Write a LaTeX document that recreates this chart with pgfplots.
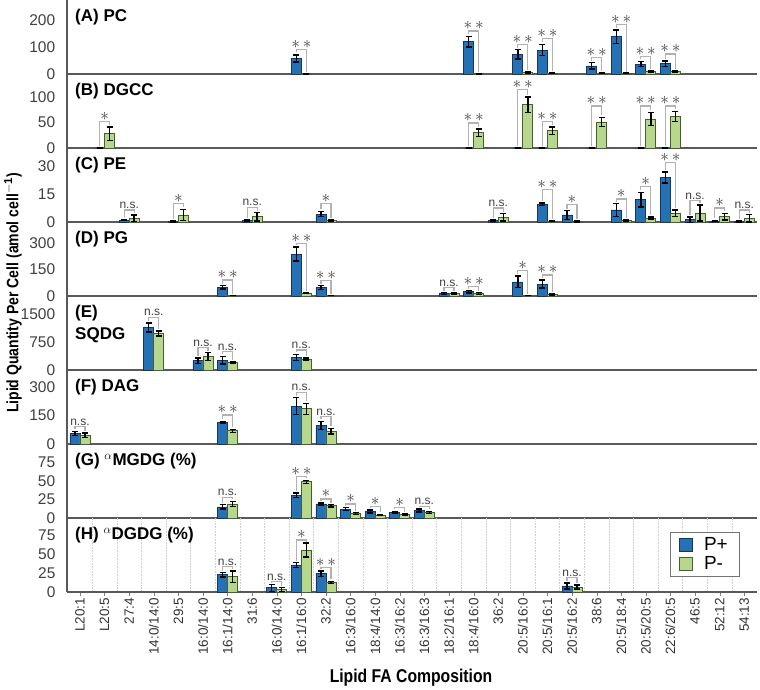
\documentclass[border=0pt]{standalone}
\usepackage{pgfplots}
\pgfplotsset{compat=1.18}
\usepackage{fontspec}
\setmainfont{Liberation Sans}
\newfontfamily\condb{Liberation Sans}[FakeStretch=0.85]

\definecolor{pblue}{RGB}{36,113,181}
\definecolor{pblueE}{RGB}{25,55,85}
\definecolor{pgreen}{RGB}{183,216,140}
\definecolor{pgreenE}{RGB}{70,95,50}

\pgfplotsset{
  panel/.style={
    width=690pt, height=74pt, scale only axis,
    xmin=-0.528, xmax=27.52, ymin=0,
    axis x line*=bottom, axis y line*=left,
    axis line style={draw=black!65, line width=1.1pt},
    xtick=\empty,
    minor xtick={0.5,1.5,...,26.5},
    xminorgrids=true,
    minor grid style={densely dotted, black!30, line width=0.6pt},
    minor tick length=0pt,
    tick align=outside,
    ytick style={draw=none},
    /pgf/number format/assume math mode=true,
    /pgf/number format/1000 sep={},
    yticklabel style={font=\fontsize{15.5}{15.5}\selectfont, text=black!75, xshift=-4pt},
    clip=false,
  },
  bp/.style={ybar, bar width=10pt, bar shift=0pt, x filter/.expression={x-0.2032},
    fill=pblue, draw=pblueE, line width=0.8pt,
    legend image code/.code={\draw[##1] (0pt,-6.5pt) rectangle (13pt,6.5pt); \path (22pt,0pt);},
    error bars/.cd, y dir=both, y explicit,
    error bar style={black, line width=1.4pt},
    error mark options={rotate=90, black, line width=1.4pt, mark size=3pt}},
  gp/.style={ybar, bar width=10pt, bar shift=0pt, x filter/.expression={x+0.2032},
    fill=pgreen, draw=pgreenE, line width=0.8pt,
    legend image code/.code={\draw[##1] (0pt,-6.5pt) rectangle (13pt,6.5pt); \path (22pt,0pt);},
    error bars/.cd, y dir=both, y explicit,
    error bar style={black, line width=1.4pt},
    error mark options={rotate=90, black, line width=1.4pt, mark size=3pt}},
  brk/.style={black!30, line width=1.3pt, no marks, forget plot},
}
\tikzset{
  siglab/.style={anchor=south, inner sep=1pt, text=black!75},
  ptitle/.style={anchor=west, inner sep=0pt, font=\bfseries\fontsize{17}{17}\selectfont},
}
\newcommand{\two}{\fontsize{18}{18}\selectfont$\ast\mkern3mu\ast$}
\newcommand{\one}{\fontsize{18}{18}\selectfont$\ast$}
\newcommand{\ns}{\fontsize{12}{12}\selectfont n.s.}
\newcommand{\sig}[5]{%
  \pgfmathsetmacro\xl{#1-0.2032}\pgfmathsetmacro\xr{#1+0.2032}%
  \edef\tmpbr{\noexpand\addplot[brk] coordinates {(\xl,#2) (\xl,#4) (\xr,#4) (\xr,#3)};}\tmpbr
  \node[siglab] at (axis cs:#1,#4) {#5};}

\begin{document}
\begin{tikzpicture}
% (A) PC
\begin{axis}[panel, at={(0pt,518pt)}, anchor=south west, ymax=275, ytick={0,100,200}]
\addplot[bp] coordinates {(9,58)+-(0,13) (16,120)+-(0,20) (18,73)+-(0,17) (19,89)+-(0,21) (21,30)+-(0,12) (22,138)+-(0,25) (23,37)+-(0,10) (24,38)+-(0,10)};
\addplot[gp] coordinates {(9,1)+-(0,0.5) (16,1)+-(0,0.5) (18,5)+-(0,2) (19,4)+-(0,1.5) (21,3)+-(0,1) (22,2)+-(0,1) (23,9)+-(0,2) (24,10)+-(0,2)};
\sig{9}{80}{8}{91}{\two}
\sig{16}{149}{8}{160}{\two}
\sig{18}{98}{14}{110}{\two}
\sig{19}{119}{12}{132}{\two}
\sig{21}{50}{10}{62}{\two}
\sig{22}{172}{9}{184}{\two}
\sig{23}{55}{18}{64}{\two}
\sig{24}{56}{19}{74}{\two}
\node[ptitle] at (rel axis cs:0.0116,0.77) {(A) PC};
\end{axis}
% (B) DGCC
\begin{axis}[panel, at={(0pt,444pt)}, anchor=south west, ymax=145, ytick={0,50,100}]
\addplot[bp] coordinates {(1,0)+-(0,0) (16,0)+-(0,0) (18,0)+-(0,0) (19,0)+-(0,0) (21,0)+-(0,0) (23,0)+-(0,0) (24,0)+-(0,0)};
\addplot[gp] coordinates {(1,28)+-(0,13) (16,30)+-(0,7) (18,85)+-(0,15) (19,34)+-(0,7) (21,51)+-(0,9) (23,57)+-(0,13) (24,62)+-(0,10)};
\sig{1}{4}{45}{52}{\one}
\sig{16}{4}{41}{49}{\two}
\sig{18}{4}{104}{114}{\two}
\sig{19}{4}{45}{52}{\two}
\sig{21}{4}{64}{82}{\two}
\sig{23}{4}{74}{82}{\two}
\sig{24}{4}{76}{82}{\two}
\node[ptitle] at (rel axis cs:0.0116,0.77) {(B) DGCC};
\end{axis}
% (C) PE
\begin{axis}[panel, at={(0pt,370pt)}, anchor=south west, ymax=40, ytick={0,15,30}]
\addplot[bp] coordinates {(2,1)+-(0,0.3) (4,0.3)+-(0,0.2) (7,0.8)+-(0,0.2) (10,4.3)+-(0,1.4) (17,0.8)+-(0,0.2) (19,9.5)+-(0,0.7) (20,3.8)+-(0,2.3) (22,6.5)+-(0,3.5) (23,12)+-(0,4) (24,24)+-(0,3) (25,1.2)+-(0,1.5) (26,0.5)+-(0,0.3) (27,0.3)+-(0,0.2)};
\addplot[gp] coordinates {(2,2)+-(0,1.8) (4,3.8)+-(0,3) (7,2.8)+-(0,2.3) (10,0.7)+-(0,0.3) (17,2.5)+-(0,2) (19,0.5)+-(0,0.2) (20,0.3)+-(0,0.2) (22,0.8)+-(0,0.3) (23,2.2)+-(0,0.5) (24,4.7)+-(0,1.8) (25,4.8)+-(0,4.3) (26,2.9)+-(0,1.8) (27,2)+-(0,2)};
\sig{2}{2.5}{5}{6.5}{\ns}
\sig{4}{1.5}{8}{10}{\one}
\sig{7}{2}{6.2}{8}{\ns}
\sig{10}{6.8}{2}{10}{\one}
\sig{17}{2}{5.6}{7.5}{\ns}
\sig{19}{11.5}{1.7}{17.5}{\two}
\sig{20}{7.2}{1.5}{9.3}{\one}
\sig{22}{11}{2}{12.4}{\one}
\sig{23}{17.2}{3.8}{19.3}{\one}
\sig{24}{28.2}{7.6}{32}{\two}
\sig{25}{3.8}{10.2}{11.5}{\ns}
\sig{26}{1.9}{5.8}{7.5}{\one}
\sig{27}{1.6}{5.1}{6.5}{\ns}
\node[ptitle] at (rel axis cs:0.0116,0.77) {(C) PE};
\end{axis}
% (D) PG
\begin{axis}[panel, at={(0pt,296pt)}, anchor=south west, ymax=420, ytick={0,150,300}]
\addplot[bp] coordinates {(6,50)+-(0,10) (9,238)+-(0,40) (10,48)+-(0,12) (15,15)+-(0,5) (16,24)+-(0,6) (18,80)+-(0,33) (19,68)+-(0,22)};
\addplot[gp] coordinates {(6,3)+-(0,1) (9,17)+-(0,3) (10,3)+-(0,1) (15,13)+-(0,5) (16,15)+-(0,5) (18,3)+-(0,1) (19,8)+-(0,3)};
\sig{6}{70}{14}{90}{\two}
\sig{9}{289}{31}{298}{\two}
\sig{10}{70}{14}{87}{\two}
\sig{15}{31}{29}{47}{\ns}
\sig{16}{41}{31}{53}{\two}
\sig{18}{124}{14}{143}{\one}
\sig{19}{101}{22}{119}{\two}
\node[ptitle] at (rel axis cs:0.0116,0.77) {(D) PG};
\end{axis}
% (E) SQDG
\begin{axis}[panel, at={(0pt,222pt)}, anchor=south west, ymax=1980, ytick={0,750,1500}]
\addplot[bp] coordinates {(3,1140)+-(0,120) (5,250)+-(0,70) (6,265)+-(0,100) (9,340)+-(0,80)};
\addplot[gp] coordinates {(3,975)+-(0,70) (5,360)+-(0,110) (6,205)+-(0,20) (9,295)+-(0,25)};
\sig{3}{1310}{1100}{1410}{\ns}
\sig{5}{375}{520}{605}{\ns}
\sig{6}{420}{280}{498}{\ns}
\sig{9}{470}{370}{535}{\ns}
\node[ptitle] at (rel axis cs:0.0116,0.77) {(E)};
\node[ptitle] at (rel axis cs:0.0116,0.47) {SQDG};
\end{axis}
% (F) DAG
\begin{axis}[panel, at={(0pt,148pt)}, anchor=south west, ymax=390, ytick={0,150,300}]
\addplot[bp] coordinates {(0,56)+-(0,11) (6,115)+-(0,5) (9,200)+-(0,45) (10,97)+-(0,22)};
\addplot[gp] coordinates {(0,45)+-(0,12) (6,70)+-(0,8) (9,185)+-(0,30) (10,68)+-(0,15)};
\sig{0}{78}{68}{92}{\ns}
\sig{6}{130}{88}{153}{\two}
\sig{9}{255}{225}{273}{\ns}
\sig{10}{130}{94}{145}{\ns}
\node[ptitle] at (rel axis cs:0.0116,0.77) {(F) DAG};
\end{axis}
% (G) MGDG
\begin{axis}[panel, at={(0pt,74pt)}, anchor=south west, ymax=100, ytick={0,25,50,75}]
\addplot[bp] coordinates {(6,15)+-(0,3) (9,31)+-(0,3) (10,19)+-(0,1.5) (11,12)+-(0,2) (12,9)+-(0,2) (13,8)+-(0,1) (14,10)+-(0,2)};
\addplot[gp] coordinates {(6,19)+-(0,3.5) (9,49)+-(0,2) (10,16.5)+-(0,1.5) (11,6)+-(0,1.5) (12,4)+-(0,1) (13,4.5)+-(0,1) (14,7.6)+-(0,1.5)};
\sig{6}{20.7}{25.2}{28}{\ns}
\sig{9}{36.7}{53.5}{56}{\two}
\sig{10}{22.5}{20.5}{25.6}{\one}
\sig{11}{16.5}{10}{19}{\one}
\sig{12}{13.5}{7.5}{15.5}{\one}
\sig{13}{11.5}{8}{14}{\one}
\sig{14}{14.5}{11.5}{16}{\ns}
\node[ptitle] at (rel axis cs:0.0116,0.77) {(G) $^{\alpha}$MGDG (\%)};
\end{axis}
% (H) DGDG
\begin{axis}[panel, at={(0pt,0pt)}, anchor=south west, ymax=97, ytick={0,25,50,75},
  minor grid style={densely dotted, black!18, line width=0.5pt},
  xtick={0,...,27}, major tick length=4pt,
  xticklabels={L20:1, L20:5, 27:4, 14:0/14:0, 29:5, 16:0/14:0, 16:1/14:0, 31:6, 16:0/14:0, 16:1/16:0, 32:2, 16:3/16:0, 18:4/14:0, 16:3/16:2, 16:3/16:3, 18:2/16:1, 18:4/16:0, 36:2, 20:5/16:0, 20:5/16:1, 20:5/16:2, 38:6, 20:5/18:4, 20:5/20:5, 22:6/20:5, 46:5, 52:12, 54:13},
  xticklabel style={rotate=90, anchor=east, font=\fontsize{13.5}{13.5}\selectfont, text=black!80, inner sep=2pt},
  legend style={at={(1,1)}, anchor=north east, xshift=-18pt, yshift=-14pt, draw=black!55, fill=white, font=\fontsize{19}{19}\selectfont, row sep=1pt, inner xsep=9pt, inner ysep=3pt, cells={anchor=west}},
  legend cell align=left]
\addplot[bp] coordinates {(6,22.5)+-(0,3) (8,5.5)+-(0,4.5) (9,35.5)+-(0,3) (10,24)+-(0,3.3) (20,8)+-(0,4)};
\addlegendentry{P+}
\addplot[gp] coordinates {(6,20)+-(0,7.5) (8,3.5)+-(0,2.5) (9,55)+-(0,9) (10,12.3)+-(0,1.5) (20,6.5)+-(0,2.5)};
\addlegendentry{P-}
\sig{6}{28}{30}{33}{\ns}
\sig{8}{12}{8.5}{13.6}{\ns}
\sig{9}{41}{66}{68}{\one}
\sig{10}{30}{16.5}{32}{\two}
\sig{20}{14.5}{11.5}{19}{\ns}
\node[ptitle] at (rel axis cs:0.0116,0.77) {(H) $^{\alpha}$DGDG (\%)};
\end{axis}
\node[rotate=90, font=\condb\bfseries\fontsize{16.5}{16.5}\selectfont] at (-54pt,299pt) {Lipid Quantity Per Cell (amol cell$^{\mathbf{-1}}$)};
\node[font=\condb\bfseries\fontsize{18.5}{18.5}\selectfont] at (344pt,-86pt) {Lipid FA Composition};
\pgfresetboundingbox
\path[use as bounding box] (-67pt,-97pt) rectangle (693pt,592pt);
\end{tikzpicture}
\end{document}
